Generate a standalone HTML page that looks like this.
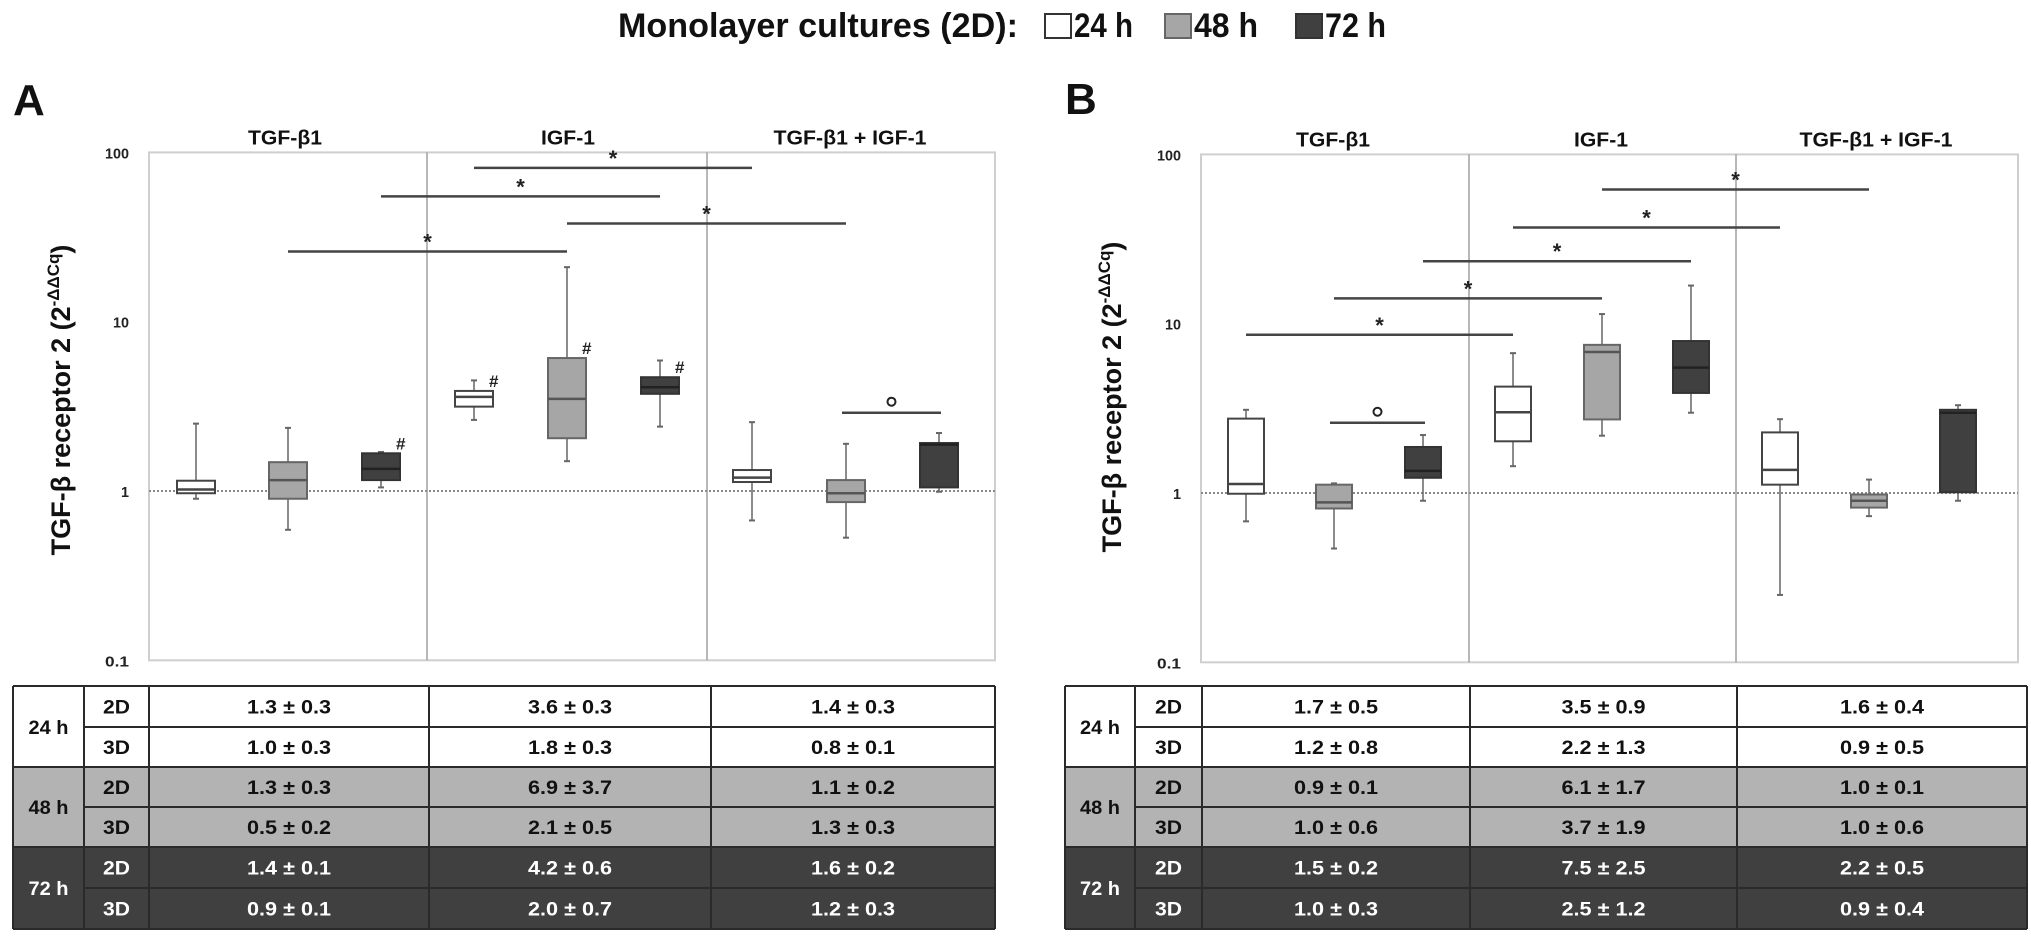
<!DOCTYPE html>
<html><head><meta charset="utf-8"><style>
html,body{margin:0;padding:0;background:#fff;width:2031px;height:944px;overflow:hidden}
svg text{font-family:"Liberation Sans",sans-serif;font-weight:bold}
</style></head><body>
<svg id="fig" width="2031" height="944" viewBox="0 0 2031 944" xmlns="http://www.w3.org/2000/svg">
<g>
<text x="618" y="37" font-size="34" textLength="400" lengthAdjust="spacingAndGlyphs" fill="#111">Monolayer cultures (2D):</text>
<rect x="1045" y="14" width="26" height="24" fill="#fff" stroke="#333" stroke-width="2"/>
<text x="1074" y="37" font-size="34" textLength="59" lengthAdjust="spacingAndGlyphs" fill="#111">24 h</text>
<rect x="1165" y="14" width="26" height="24" fill="#a6a6a6" stroke="#666" stroke-width="2"/>
<text x="1194" y="37" font-size="34" textLength="64" lengthAdjust="spacingAndGlyphs" fill="#111">48 h</text>
<rect x="1296" y="14" width="26" height="24" fill="#404040" stroke="#333" stroke-width="2"/>
<text x="1325" y="37" font-size="34" textLength="61" lengthAdjust="spacingAndGlyphs" fill="#111">72 h</text>
</g>
</svg>
<script>
// ---- Data ----
const groups = ["TGF-β1", "IGF-1", "TGF-β1 + IGF-1"];
const times = ["24 h", "48 h", "72 h"];
const yTicks = [100, 10, 1, 0.1];
const yTickLabels = ["100", "10", "1", "0.1"];
// Panel A boxes: order TGF24,TGF48,TGF72, IGF24..72, Combo24..72
const aWhiskerLow  = [0.9, 0.59, 1.05, 2.63, 1.5, 2.4, 0.67, 0.53, 0.99];
const aQ1          = [0.97, 0.9, 1.16, 3.15, 2.05, 3.75, 1.13, 0.86, 1.05];
const aMedian      = [1.02, 1.16, 1.35, 3.6, 3.5, 4.1, 1.2, 0.97, 1.88];
const aQ3          = [1.15, 1.48, 1.67, 3.9, 6.1, 4.7, 1.33, 1.16, 1.92];
const aWhiskerHigh = [2.5, 2.36, 1.7, 4.5, 21, 5.9, 2.55, 1.9, 2.2];
const aHash        = [0, 0, 1, 1, 1, 1, 0, 0, 0];
const aStarFrom = [3, 2, 4, 1];
const aStarTo   = [6, 5, 7, 4];
const aStarVal  = [81, 55, 38, 26];
const aCircFrom = [7];
const aCircTo   = [8];
const aCircVal  = [2.9];
// Panel B
const bWhiskerLow  = [0.68, 0.47, 0.9, 1.44, 2.18, 2.98, 0.25, 0.73, 0.9];
const bQ1          = [0.99, 0.81, 1.23, 2.02, 2.72, 3.9, 1.12, 0.82, 1.01];
const bMedian      = [1.13, 0.88, 1.35, 3.0, 6.8, 5.5, 1.37, 0.9, 2.98];
const bQ3          = [2.75, 1.12, 1.87, 4.25, 7.5, 7.9, 2.28, 0.98, 3.1];
const bWhiskerHigh = [3.1, 1.14, 2.2, 6.7, 11.4, 16.8, 2.73, 1.2, 3.3];
const bHash        = [0, 0, 0, 0, 0, 0, 0, 0, 0];
const bStarFrom = [0, 1, 2, 3, 4];
const bStarTo   = [3, 4, 5, 6, 7];
const bStarVal  = [8.6, 14.1, 23.4, 37, 62];
const bCircFrom = [1];
const bCircTo   = [2];
const bCircVal  = [2.6];
// Tables
const tableA = [
 ["1.3 ± 0.3","3.6 ± 0.3","1.4 ± 0.3"],
 ["1.0 ± 0.3","1.8 ± 0.3","0.8 ± 0.1"],
 ["1.3 ± 0.3","6.9 ± 3.7","1.1 ± 0.2"],
 ["0.5 ± 0.2","2.1 ± 0.5","1.3 ± 0.3"],
 ["1.4 ± 0.1","4.2 ± 0.6","1.6 ± 0.2"],
 ["0.9 ± 0.1","2.0 ± 0.7","1.2 ± 0.3"]];
const tableB = [
 ["1.7 ± 0.5","3.5 ± 0.9","1.6 ± 0.4"],
 ["1.2 ± 0.8","2.2 ± 1.3","0.9 ± 0.5"],
 ["0.9 ± 0.1","6.1 ± 1.7","1.0 ± 0.1"],
 ["1.0 ± 0.6","3.7 ± 1.9","1.0 ± 0.6"],
 ["1.5 ± 0.2","7.5 ± 2.5","2.2 ± 0.5"],
 ["1.0 ± 0.3","2.5 ± 1.2","0.9 ± 0.4"]];
const dims = ["2D","3D"];

// ---- Rendering ----
const NS="http://www.w3.org/2000/svg";
const svg=document.getElementById('fig');
function mk(tag,attrs,parent,txt){const e=document.createElementNS(NS,tag);for(const k in attrs)e.setAttribute(k,attrs[k]);if(txt!==undefined)e.textContent=txt;(parent||svg).appendChild(e);return e;}
const fills=["#ffffff","#a6a6a6","#404040"];
const strokes=["#444","#666","#333"];
const medCol=["#444","#555","#222"];

function panel(cfg){
  const g=mk('g',{});
  
  
  const y=v=>cfg.y1-cfg.dec*Math.log10(v);
  const L=cfg.left,R=cfg.right,T=y(100),B=y(0.1);
  const lab=mk('text',{x:cfg.labX,y:cfg.labY,'font-size':44,fill:'#111'},g,cfg.id.toUpperCase());
  
  
  const fr=mk('rect',{x:L,y:T,width:R-L,height:B-T,fill:'none',stroke:'#cfcfcf','stroke-width':2},g);
  
  
  cfg.div.forEach(dx=>{const d=mk('line',{x1:dx,x2:dx,y1:T,y2:B,stroke:'#a0a0a0','stroke-width':1.5},g);
    
    });
  const ref=mk('line',{x1:L,x2:R,y1:y(1),y2:y(1),stroke:'#888','stroke-width':2,'stroke-dasharray':'2 2'},g);
  
  
  yTicks.forEach((t,i)=>{const tx=mk('text',{x:L-20,y:y(t)+6,'font-size':15,'text-anchor':'end',fill:'#222',textLength:yTickLabels[i].length*8,lengthAdjust:'spacingAndGlyphs'},g,yTickLabels[i]);
    
    });
  const gb=[L].concat(cfg.div).concat([R]);
  groups.forEach((name,i)=>{const h=mk('text',{x:cfg.hx[i],y:T-8,'font-size':20,'text-anchor':'middle',fill:'#111',textLength:cfg.hw[i],lengthAdjust:'spacingAndGlyphs'},g,name);
    
    });
  // y axis title
  const yt=mk('text',{transform:`translate(${cfg.ytx},${cfg.yty}) rotate(-90)`,'font-size':27,'text-anchor':'middle',fill:'#111'},g);
  
  
  mk('tspan',{},yt,'TGF-β receptor 2 (2');
  mk('tspan',{'font-size':17,dy:-11},yt,'-ΔΔCq');
  mk('tspan',{dy:11},yt,')');
  const cx=cfg.cx,w=cfg.bw;
  for(let i=0;i<9;i++){
    const t=i%3;
    const bg=mk('g',{},g);
    
    
    const x=cx[i];
    mk('line',{x1:x,x2:x,y1:y(cfg.wl[i]),y2:y(cfg.wh[i]),stroke:'#666','stroke-width':1.5},bg);
    mk('line',{x1:x-3,x2:x+3,y1:y(cfg.wl[i]),y2:y(cfg.wl[i]),stroke:'#666','stroke-width':2},bg);
    mk('line',{x1:x-3,x2:x+3,y1:y(cfg.wh[i]),y2:y(cfg.wh[i]),stroke:'#666','stroke-width':2},bg);
    mk('rect',{x:x-w/2,y:y(cfg.q3[i]),width:w,height:y(cfg.q1[i])-y(cfg.q3[i]),fill:fills[t],stroke:strokes[t],'stroke-width':2},bg);
    mk('line',{x1:x-w/2,x2:x+w/2,y1:y(cfg.med[i]),y2:y(cfg.med[i]),stroke:medCol[t],'stroke-width':2.5},bg);
    if(cfg.hash[i]){const hs=mk('text',{x:x+w/2-4,y:y(cfg.q3[i])-4,'font-size':17,fill:'#222'},bg,'#');
      
      }
  }
  cfg.sf.forEach((f,k)=>{const yy=y(cfg.sv[k]),x1=cx[f],x2=cx[cfg.st[k]];
    const ln=mk('line',{x1:x1,x2:x2,y1:yy,y2:yy,stroke:'#444','stroke-width':2.5},g);
    
    
    const s=mk('text',{x:(x1+x2)/2,y:yy-2,'font-size':22,'text-anchor':'middle',fill:'#222'},g,'*');
    
    });
  cfg.cf.forEach((f,k)=>{const yy=y(cfg.cv[k]),x1=cx[f]-4,x2=cx[cfg.ct[k]]+2;
    const ln=mk('line',{x1:x1,x2:x2,y1:yy,y2:yy,stroke:'#444','stroke-width':2.5},g);
    
    
    const c=mk('circle',{cx:(x1+x2)/2,cy:yy-11,r:4,fill:'none',stroke:'#222','stroke-width':2},g);
    
    });
  // table
  const tg=mk('g',{},g);
  
  
  const rows=cfg.rows,cols=cfg.cols;
  const bgc=["#ffffff","#b3b3b3","#404040"],tc=["#111","#111","#fff"];
  for(let gi=0;gi<3;gi++){
    mk('rect',{x:cols[0],y:rows[gi*2],width:cols[5]-cols[0],height:rows[gi*2+2]-rows[gi*2],fill:bgc[gi]},tg);
    const tl=mk('text',{x:(cols[0]+cols[1])/2,y:rows[gi*2+1]+7,'font-size':19,'text-anchor':'middle',fill:tc[gi],textLength:40,lengthAdjust:'spacingAndGlyphs'},tg,times[gi]);
    
    
    for(let r=0;r<2;r++){const ri=gi*2+r,cy=(rows[ri]+rows[ri+1])/2+7;
      const dl=mk('text',{x:(cols[1]+cols[2])/2,y:cy,'font-size':19,'text-anchor':'middle',fill:tc[gi],textLength:27,lengthAdjust:'spacingAndGlyphs'},tg,dims[r]);
      
      
      for(let c=0;c<3;c++){const v=mk('text',{x:(cols[c+2]+cols[c+3])/2,y:cy,'font-size':19,'text-anchor':'middle',fill:tc[gi],textLength:84,lengthAdjust:'spacingAndGlyphs'},tg,cfg.table[ri][c]);
        
        }
    }
  }
  for(let r=0;r<=6;r++){const full=(r%2===0);
    mk('line',{x1:full?cols[0]:cols[1],x2:cols[5],y1:rows[r],y2:rows[r],stroke:'#2a2a2a','stroke-width':2},tg);}
  cols.forEach(c=>mk('line',{x1:c,x2:c,y1:rows[0],y2:rows[6],stroke:'#2a2a2a','stroke-width':2},tg));
}
panel({id:'a',y1:491,dec:169.3,left:149,right:995,div:[427,707],labX:13,labY:115,
  hx:[285,568,850],hw:[74,54,153],ytx:70,yty:400,
  cx:[196,288,381,474,567,660,752,846,939],bw:38,
  wl:aWhiskerLow,q1:aQ1,med:aMedian,q3:aQ3,wh:aWhiskerHigh,hash:aHash,
  sf:aStarFrom,st:aStarTo,sv:aStarVal,cf:aCircFrom,ct:aCircTo,cv:aCircVal,
  rows:[686,727,767,807,847,888,929],cols:[13,84,149,429,711,995],table:tableA});
panel({id:'b',y1:493,dec:169.3,left:1201,right:2018,div:[1469,1736],labX:1065,labY:114,
  hx:[1333,1601,1876],hw:[74,54,153],ytx:1121,yty:397,
  cx:[1246,1334,1423,1513,1602,1691,1780,1869,1958],bw:36,
  wl:bWhiskerLow,q1:bQ1,med:bMedian,q3:bQ3,wh:bWhiskerHigh,hash:bHash,
  sf:bStarFrom,st:bStarTo,sv:bStarVal,cf:bCircFrom,ct:bCircTo,cv:bCircVal,
  rows:[686,727,767,807,847,888,929],cols:[1065,1135,1202,1470,1737,2027],table:tableB});
</script>
</body></html>
